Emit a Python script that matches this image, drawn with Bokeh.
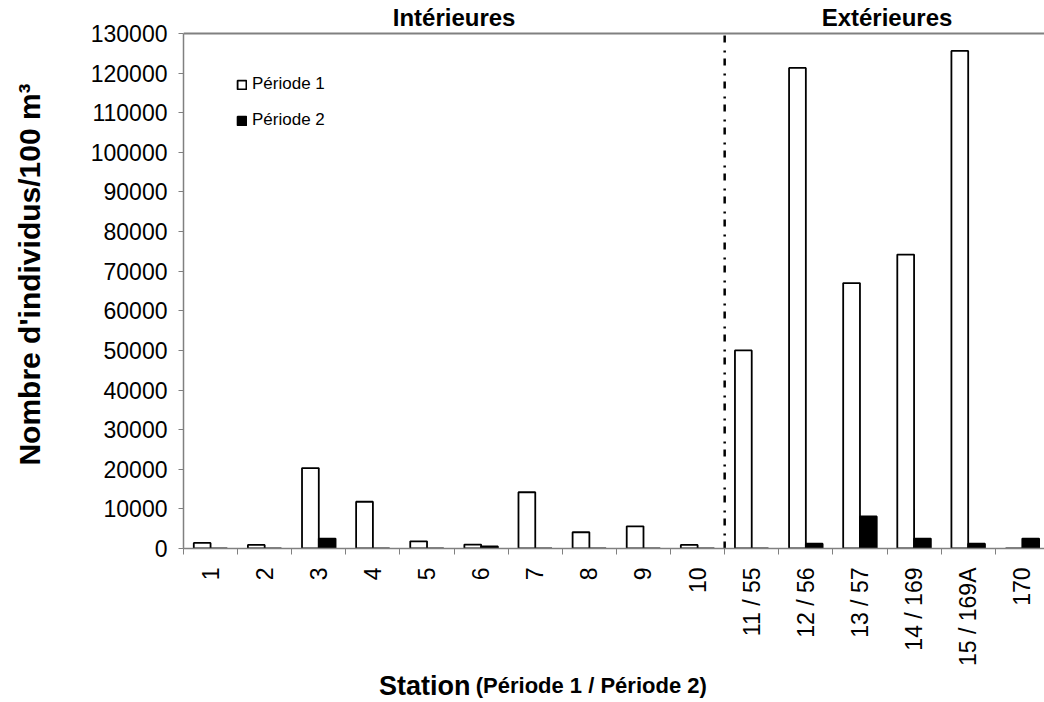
import math
from bokeh.plotting import figure
from bokeh.layouts import column
from bokeh.models import (ColumnDataSource, FixedTicker, NumeralTickFormatter, Span, Label,
                          Range1d, Legend, LegendItem)
from bokeh.embed import file_html
from bokeh.resources import INLINE

stations = ["1", "2", "3", "4", "5", "6", "7", "8", "9", "10",
            "11 / 55", "12 / 56", "13 / 57", "14 / 169", "15 / 169A", "170"]
periode1 = [1400, 900, 20300, 11800, 1800, 1000, 14200, 4100, 5600, 900,
            50000, 121300, 67000, 74200, 125600, 0]
periode2 = [0, 0, 2500, 0, 0, 500, 0, 0, 0, 0,
            0, 1200, 8100, 2500, 1200, 2500]
y_ticks = list(range(0, 130001, 10000))
n_interieures = 10

FONT = "Liberation Sans"
GREY = "#808080"

# layout (pixels)
W, H = 1044, 702
FRAME_LEFT = 183
AXIS_TOP_PX = 33       # where the y value 130000 sits
FRAME_BOTTOM_PX = 548  # where 0 sits
FOOT_H = 32            # strip holding the x axis title
MAIN_H = H - FOOT_H

y_max = y_ticks[-1]
px_per_unit = (FRAME_BOTTOM_PX - AXIS_TOP_PX) / y_max
y_end = y_max + AXIS_TOP_PX / px_per_unit

pos = [i + 1 for i in range(len(stations))]
bw = 0.31
src = ColumnDataSource(dict(
    x1=[p - bw / 2 for p in pos], x2=[p + bw / 2 for p in pos],
    p1=periode1, p2=periode2))

x_range = Range1d(0.5, len(stations) + 0.41)
p = figure(width=W, height=MAIN_H, output_backend="svg", toolbar_location=None,
           x_range=x_range, y_range=Range1d(0, y_end),
           min_border_left=FRAME_LEFT, min_border_right=0, min_border_top=0,
           min_border_bottom=MAIN_H - FRAME_BOTTOM_PX)
p.outline_line_color = None
p.xgrid.visible = False
p.ygrid.visible = False
p.background_fill_color = "white"
p.border_fill_color = "white"

r1 = p.vbar(x="x1", top="p1", width=bw, source=src, fill_color="white",
            line_color="black", line_width=1.8)
r2 = p.vbar(x="x2", top="p2", width=bw, source=src, fill_color="black",
            line_color="black", line_width=1.8)

xa = p.xaxis[0]
xa.ticker = FixedTicker(ticks=pos, minor_ticks=[p_ - 0.5 for p_ in pos] + [pos[-1] + 0.5])
xa.major_label_overrides = {p_: s for p_, s in zip(pos, stations)}
xa.major_label_orientation = math.pi / 2
xa.major_tick_out = 0
xa.major_tick_in = 0
xa.minor_tick_out = 6
xa.minor_tick_in = 0
xa.minor_tick_line_color = GREY
xa.axis_line_color = GREY
xa.axis_line_width = 1.5
xa.major_label_text_font = FONT
xa.major_label_text_font_size = "23px"
xa.major_label_text_color = "black"
xa.major_label_standoff = 13

ya = p.yaxis[0]
ya.bounds = (0, y_max)
ya.ticker = FixedTicker(ticks=y_ticks)
ya.formatter = NumeralTickFormatter(format="0")
ya.major_tick_out = 5
ya.major_tick_in = 0
ya.minor_tick_out = 0
ya.minor_tick_in = 0
ya.major_tick_line_color = GREY
ya.axis_line_color = GREY
ya.axis_line_width = 1.5
ya.major_label_text_font = FONT
ya.major_label_text_font_size = "23px"
ya.major_label_text_color = "black"
ya.major_label_standoff = 11
ya.axis_label = "Nombre d'individus/100 m\u00b3"
ya.axis_label_text_font = FONT
ya.axis_label_text_font_size = "30px"
ya.axis_label_text_font_style = "bold"
ya.axis_label_text_color = "black"
ya.axis_label_standoff = 42

# top border of the plot area and the Intérieures / Extérieures separator
p.add_layout(Span(location=y_max, dimension="width", line_color=GREY, line_width=2))
p.segment(x0=[n_interieures + 0.5], y0=[0], x1=[n_interieures + 0.5], y1=[y_max],
          line_color="black", line_width=2.5, line_dash="7 6 2 8")

# group titles
title_y = y_max + (AXIS_TOP_PX - 17) / px_per_unit
p.add_layout(Label(x=(0.5 + n_interieures + 0.5) / 2, y=title_y, text="Intérieures",
                   text_font=FONT, text_font_size="24px", text_font_style="bold",
                   text_color="black", text_align="center", text_baseline="middle"))
p.add_layout(Label(x=(n_interieures + 0.5 + len(stations) + 0.5) / 2, y=title_y, text="Extérieures",
                   text_font=FONT, text_font_size="24px", text_font_style="bold",
                   text_color="black", text_align="center", text_baseline="middle"))

legend = Legend(items=[LegendItem(label="Période 1", renderers=[r1]),
                       LegendItem(label="Période 2", renderers=[r2])],
                location=(53, 418), padding=0, margin=0, spacing=16,
                glyph_width=11, glyph_height=11, label_height=20, label_standoff=5,
                label_text_font=FONT, label_text_font_size="17px", label_text_color="black",
                border_line_color=None, background_fill_alpha=0)
p.add_layout(legend)

# foot strip with the x axis title (two font sizes)
f = figure(width=W, height=FOOT_H, output_backend="svg", toolbar_location=None,
           x_range=x_range, y_range=Range1d(0, FOOT_H),
           min_border_left=FRAME_LEFT, min_border_right=0, min_border_top=0, min_border_bottom=0,
           x_axis_type=None, y_axis_type=None)
f.outline_line_color = None
f.xgrid.visible = False
f.ygrid.visible = False
f.background_fill_color = "white"
f.border_fill_color = "white"
f.add_layout(Label(x=5.805, y=FOOT_H - 15, text="Station", text_font=FONT, text_font_size="27px",
                   text_font_style="bold", text_color="black", text_align="right",
                   text_baseline="middle"))
f.add_layout(Label(x=5.9, y=FOOT_H - 15, text="(Période 1 / Période 2)", text_font=FONT,
                   text_font_size="22px", text_font_style="bold", text_color="black",
                   text_align="left", text_baseline="middle"))

layout = column(p, f, spacing=0)
open("out.html", "w").write(file_html(layout, INLINE))
